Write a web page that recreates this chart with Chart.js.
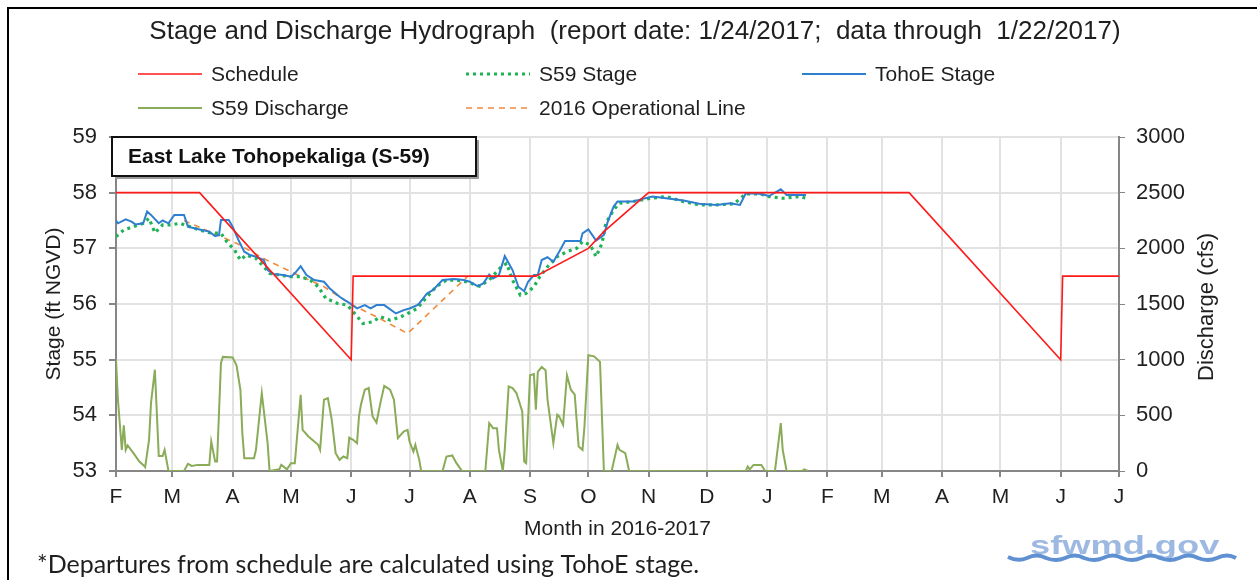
<!DOCTYPE html>
<html>
<head>
<meta charset="utf-8">
<script src="https://cdn.jsdelivr.net/npm/chart.js@4.4.0/dist/chart.umd.min.js"></script>
<style>
  html, body { margin: 0; padding: 0; background: #fff; }
  canvas { display: block; }
</style>
</head>
<body>
<canvas id="hydro" width="1257" height="580"></canvas>
<script>
// x values are days since Feb 1 2016
let monthDays = [0, 29, 60, 90, 121, 151, 182, 213, 243, 274, 304, 335, 366, 394, 425, 455, 486, 516];
let monthLabels = ["F", "M", "A", "M", "J", "J", "A", "S", "O", "N", "D", "J", "F", "M", "A", "M", "J", "J"];

let scheduleDays = [0, 43, 121, 122, 216, 243, 251, 274, 408, 486, 487, 516];
let scheduleStage = [58, 58, 55, 56.5, 56.5, 57.0, 57.3, 58, 58, 55, 56.5, 56.5];

let s59Days = [0, 4, 9, 14, 17, 20, 24, 28, 33, 38, 43, 48, 54, 57, 61, 64, 67, 72, 76, 79, 84, 90, 95, 100,
  104, 108, 114, 119, 124, 127, 132, 136, 141, 146, 150, 155, 160, 165, 170, 175, 180, 187, 192, 198, 201,
  204, 208, 211, 215, 218, 222, 227, 232, 237, 240, 244, 247, 250, 252, 256, 259, 266, 275, 283, 292, 300,
  309, 318, 324, 331, 336, 343, 352, 355];
let s59Stage = [57.21, 57.33, 57.39, 57.45, 57.54, 57.28, 57.42, 57.42, 57.45, 57.39, 57.33, 57.28, 57.27,
  57.12, 56.97, 56.79, 56.88, 56.82, 56.67, 56.55, 56.52, 56.49, 56.49, 56.43, 56.31, 56.10, 56.01, 55.98,
  55.78, 55.65, 55.68, 55.77, 55.71, 55.76, 55.83, 55.92, 56.13, 56.32, 56.43, 56.43, 56.40, 56.32, 56.43,
  56.66, 56.73, 56.43, 56.16, 56.19, 56.31, 56.49, 56.67, 56.85, 56.94, 57.00, 57.12, 57.06, 56.85, 57.09,
  57.45, 57.69, 57.81, 57.84, 57.90, 57.93, 57.84, 57.78, 57.78, 57.80, 57.98, 57.98, 57.93, 57.90, 57.93, 57.90];

let tohoeDays = [0, 1, 5, 8, 10, 14, 16, 18, 22, 24, 27, 30, 35, 37, 43, 48, 51, 53, 54, 58, 60, 63, 66, 69,
  72, 76, 78, 81, 86, 90, 92, 95, 98, 102, 107, 110, 115, 120, 124, 128, 131, 134, 138, 144, 148, 151, 155,
  156, 160, 163, 168, 174, 179, 182, 186, 189, 192, 194, 197, 200, 204, 207, 210, 212, 215, 217, 219, 222,
  225, 228, 231, 235, 239, 240, 243, 247, 251, 253, 256, 258, 266, 270, 276, 283, 292, 300, 309, 316, 321,
  324, 331, 336, 342, 345, 352, 355];
let tohoeStage = [57.50, 57.45, 57.52, 57.48, 57.43, 57.45, 57.66, 57.60, 57.45, 57.50, 57.45, 57.60, 57.60,
  57.39, 57.34, 57.30, 57.22, 57.24, 57.51, 57.51, 57.39, 57.15, 56.94, 56.88, 56.85, 56.79, 56.61, 56.54,
  56.52, 56.49, 56.55, 56.68, 56.52, 56.43, 56.40, 56.28, 56.13, 56.02, 55.92, 55.98, 55.92, 55.98, 55.98,
  55.83, 55.89, 55.92, 55.98, 56.01, 56.19, 56.25, 56.43, 56.45, 56.43, 56.40, 56.32, 56.37, 56.53, 56.46,
  56.52, 56.86, 56.61, 56.31, 56.23, 56.40, 56.52, 56.52, 56.79, 56.84, 56.76, 56.94, 57.13, 57.13, 57.13,
  57.27, 57.34, 57.14, 57.24, 57.48, 57.75, 57.84, 57.84, 57.88, 57.93, 57.90, 57.86, 57.80, 57.78, 57.81,
  57.78, 57.99, 57.98, 57.94, 58.06, 57.96, 57.96, 57.96];

let dischargeDays = [0, 1, 3, 4, 5, 6, 9, 12, 14, 15, 17, 18, 20, 22, 24, 25, 27, 35, 37, 39, 42, 48, 49, 51,
  52, 54, 55, 60, 62, 64, 65, 66, 71, 72, 75, 78, 79, 84, 85, 88, 90, 92, 95, 96, 99, 102, 104, 105, 107, 109,
  111, 113, 115, 117, 119, 120, 122, 124, 125, 126, 128, 130, 132, 134, 136, 138, 141, 143, 145, 148, 150,
  151, 153, 154, 156, 157, 168, 170, 173, 175, 178, 190, 192, 194, 196, 197, 199, 200, 202, 204, 206, 209,
  210, 211, 213, 215, 216, 217, 219, 221, 222, 225, 227, 228, 230, 232, 234, 236, 238, 240, 241, 243, 246,
  249, 251, 255, 258, 259, 262, 264, 324, 325, 326, 328, 332, 334, 339, 342, 343, 345, 353, 354, 356];
let dischargeCfs = [1000, 640, 190, 410, 190, 230, 160, 85, 55, 35, 280, 610, 910, 135, 135, 190, 0, 0, 65, 45,
  55, 55, 265, 85, 85, 970, 1025, 1020, 950, 730, 340, 115, 115, 190, 700, 250, 0, 15, 55, 15, 70, 70, 685,
  370, 310, 265, 235, 190, 640, 655, 460, 160, 100, 130, 115, 300, 280, 250, 490, 595, 730, 745, 490, 435,
  610, 765, 730, 640, 295, 355, 370, 265, 175, 235, 100, 0, 0, 130, 140, 75, 0, 0, 430, 385, 385, 190, 0,
  190, 760, 745, 700, 535, 85, 70, 860, 870, 550, 890, 935, 905, 640, 250, 505, 490, 415, 860, 730, 685,
  220, 190, 400, 1040, 1030, 980, 0, 0, 235, 190, 160, 0, 0, 40, 15, 55, 55, 0, 0, 430, 190, 0, 0, 15, 0];

let opDays = [35, 62, 78, 90, 107, 120, 134, 150, 181];
let opStage = [57.5, 57.09, 56.78, 56.58, 56.31, 56.01, 55.77, 55.47, 56.5];

function pairs(xs, ys) {
  return xs.map((x, i) => ({ x: x, y: ys[i] }));
}

Chart.defaults.font.family = 'Arial, "Liberation Sans", sans-serif';
Chart.defaults.color = '#1f1f1f';

const AXIS = '#868686';
const GRID = '#e2e2e2';

const decor = {
  id: 'decor',
  afterDraw(chart) {
    const ctx = chart.ctx;
    ctx.save();

    // outer frame
    ctx.strokeStyle = '#000';
    ctx.lineWidth = 2;
    ctx.strokeRect(8, 8, 1270, 600);

    // title
    ctx.fillStyle = '#1f1f1f';
    ctx.font = '26px Arial, "Liberation Sans", sans-serif';
    ctx.textAlign = 'center';
    ctx.textBaseline = 'middle';
    ctx.fillText('Stage and Discharge Hydrograph  (report date: 1/24/2017;  data through  1/22/2017)', 635, 32);

    // legend in three columns
    const slots = [[138, 74], [466, 74], [802, 74], [138, 108], [466, 108]];
    ctx.font = '21px Arial, "Liberation Sans", sans-serif';
    ctx.textAlign = 'left';
    chart.data.datasets.forEach((ds, i) => {
      const [lx, ly] = slots[i];
      ctx.save();
      ctx.strokeStyle = ds.borderColor;
      ctx.lineWidth = ds.borderWidth;
      ctx.setLineDash(ds.borderDash || []);
      ctx.beginPath();
      ctx.moveTo(lx, ly);
      ctx.lineTo(lx + 64, ly);
      ctx.stroke();
      ctx.restore();
      ctx.fillText(ds.label, lx + 73, ly + 1);
    });

    // right axis title, reading bottom to top
    ctx.save();
    ctx.translate(1207, 307);
    ctx.rotate(-Math.PI / 2);
    ctx.textAlign = 'center';
    ctx.font = '22px Arial, "Liberation Sans", sans-serif';
    ctx.fillText('Discharge (cfs)', 0, 0);
    ctx.restore();

    // lake name box with shadow
    ctx.fillStyle = '#9a9a9a';
    ctx.fillRect(115, 140, 364, 39);
    ctx.fillStyle = '#fff';
    ctx.fillRect(112, 137, 364, 39);
    ctx.strokeStyle = '#111';
    ctx.lineWidth = 2;
    ctx.strokeRect(112, 137, 364, 39);
    ctx.fillStyle = '#111';
    ctx.font = 'bold 21px Arial, "Liberation Sans", sans-serif';
    ctx.textAlign = 'left';
    ctx.fillText('East Lake Tohopekaliga (S-59)', 128, 157);

    // footnote
    ctx.font = '25px Lato, "Open Sans", sans-serif';
    ctx.fillStyle = '#1f1f1f';
    ctx.fillText('*Departures from schedule are calculated using TohoE stage.', 37, 565);

    // sfwmd.gov mark
    ctx.save();
    ctx.translate(1030, 547);
    ctx.scale(1.45, 1);
    ctx.font = 'bold 25px Arial, "Liberation Sans", sans-serif';
    ctx.fillStyle = '#9db9e2';
    ctx.fillText('sfwmd.gov', 0, 0);
    ctx.restore();
    ctx.strokeStyle = '#5f90d2';
    ctx.lineWidth = 4;
    ctx.beginPath();
    ctx.moveTo(1008, 557);
    for (let k = 0; k < 6; k++) {
      const x0 = 1008 + k * 38;
      ctx.quadraticCurveTo(x0 + 10, 562, x0 + 19, 558);
      ctx.quadraticCurveTo(x0 + 29, 553, x0 + 38, 558);
    }
    ctx.stroke();

    ctx.restore();
  }
};

new Chart(document.getElementById('hydro').getContext('2d'), {
  type: 'line',
  data: {
    datasets: [
      { label: 'Schedule', data: pairs(scheduleDays, scheduleStage), yAxisID: 'y',
        borderColor: '#ff1a1a', borderWidth: 1.6, order: 0 },
      { label: 'S59 Stage', data: pairs(s59Days, s59Stage), yAxisID: 'y',
        borderColor: '#1fb356', borderWidth: 3.2, borderDash: [3, 4], borderCapStyle: 'butt', order: 2 },
      { label: 'TohoE Stage', data: pairs(tohoeDays, tohoeStage), yAxisID: 'y',
        borderColor: '#2f7fd0', borderWidth: 2, order: 1 },
      { label: 'S59 Discharge', data: pairs(dischargeDays, dischargeCfs), yAxisID: 'y1',
        borderColor: '#8aab57', borderWidth: 2, order: 4 },
      { label: '2016 Operational Line', data: pairs(opDays, opStage), yAxisID: 'y',
        borderColor: '#f08a3c', borderWidth: 1.6, borderDash: [6, 5], order: 3 }
    ]
  },
  options: {
    responsive: false,
    animation: false,
    devicePixelRatio: 1,
    layout: { padding: { top: 137, left: 0, right: 0, bottom: 0 } },
    elements: { point: { radius: 0 }, line: { tension: 0, fill: false } },
    plugins: { legend: { display: false }, title: { display: false }, tooltip: { enabled: false } },
    scales: {
      x: {
        type: 'linear', min: 0, max: 516,
        afterBuildTicks: s => { s.ticks = monthDays.map(v => ({ value: v })); },
        afterFit: s => { s.height = 109; },
        ticks: { autoSkip: false, maxRotation: 0, padding: 8, font: { size: 21 },
          callback: (v, i) => monthLabels[i] },
        grid: { color: GRID, lineWidth: 2, tickColor: AXIS, tickLength: 6 },
        border: { color: AXIS, width: 2 },
        title: { display: true, text: 'Month in 2016-2017', font: { size: 21 }, padding: { top: 0, bottom: 38 } }
      },
      y: {
        position: 'left', min: 53, max: 59,
        afterFit: s => { s.width = 116; },
        ticks: { stepSize: 0.5, padding: 12, font: { size: 22 },
          callback: v => Number.isInteger(v) ? v : '' },
        grid: { color: GRID, lineWidth: 2, tickLength: 7,
          tickColor: c => Number.isInteger(c.tick.value) ? AXIS : 'rgba(0,0,0,0)' },
        border: { color: AXIS, width: 2 },
        title: { display: true, text: 'Stage (ft NGVD)', font: { size: 21 }, padding: { top: 42, bottom: 0 } }
      },
      y1: {
        position: 'right', min: 0, max: 3000,
        afterFit: s => { s.width = 138; },
        ticks: { stepSize: 500, padding: 11, font: { size: 22 }, callback: v => String(v) },
        grid: { drawOnChartArea: false, tickColor: AXIS, tickLength: 6 },
        border: { color: AXIS, width: 2 }
      }
    }
  },
  plugins: [decor]
});
</script>
</body>
</html>
